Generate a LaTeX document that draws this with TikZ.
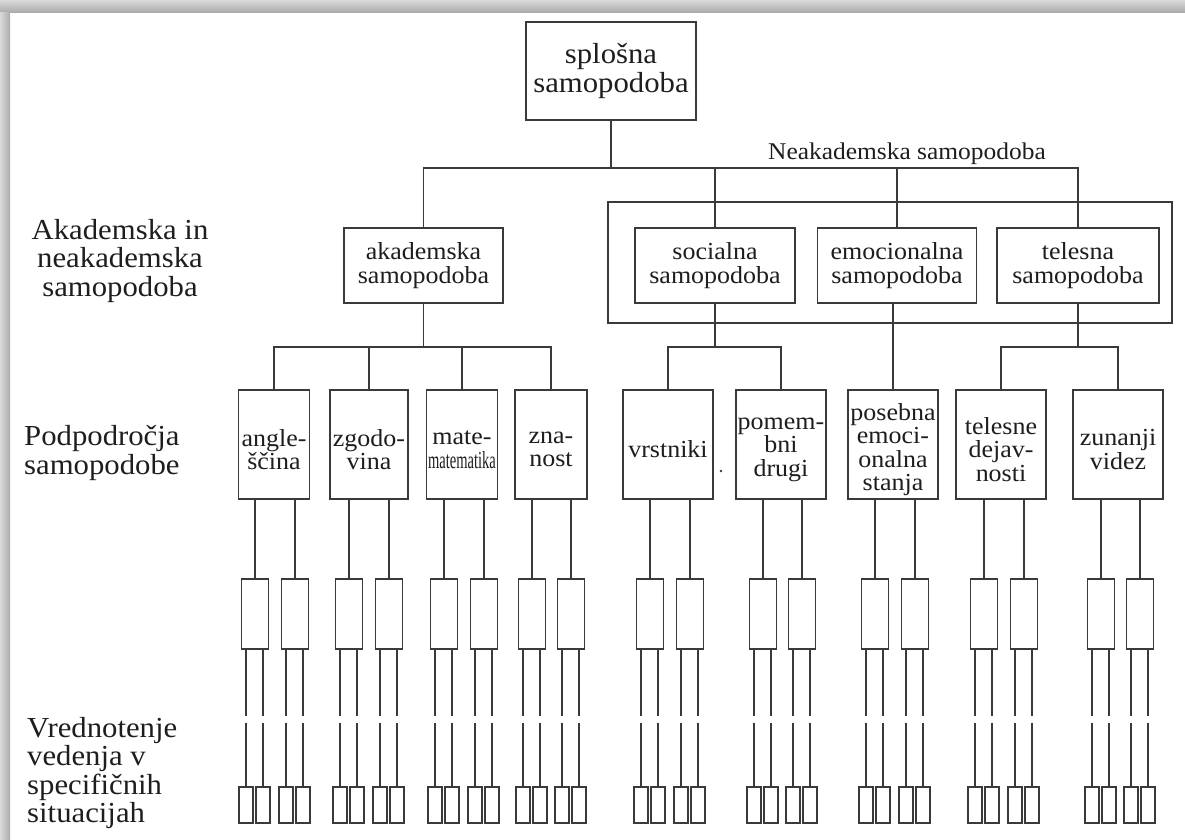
\documentclass[tikz,border=0pt]{standalone}
\usepackage{fontspec}
\usepackage{graphicx}
\setmainfont{Liberation Serif}[FakeStretch=1.06]
\usetikzlibrary{calc}
\definecolor{ln}{HTML}{3A3A3A}
\definecolor{tx}{HTML}{1E1E1E}
\newcommand{\bxf}{\fontsize{24.5}{23.5}\selectfont}
\newcommand{\bigf}{\fontsize{29}{29}\selectfont}
\newcommand{\labf}{\fontsize{29}{28.5}\selectfont}
\tikzset{
  conn/.style={draw=ln, line width=1.2pt},
  brk/.style={conn, dash pattern=on 66pt off 7pt on 200pt},
  box/.style={draw=ln, line width=1.2pt, inner sep=0pt, align=center, text=tx, font=\bxf},
  topbox/.style={box, font=\bigf, minimum width=170pt, minimum height=98pt},
  lvtwo/.style={box, minimum height=75pt},
  lvthree/.style={box, minimum height=109pt},
  lvtxt/.style={font=\bxf, align=center, text=tx, inner sep=0pt, yshift=-5pt},
  midbox/.style={draw=ln, line width=1.2pt, inner sep=0pt, minimum width=27pt, minimum height=70pt},
  botbox/.style={draw=ln, line width=1.2pt, inner sep=0pt, minimum width=14pt, minimum height=36pt},
  lab/.style={font=\labf, text=tx, inner sep=0pt}
}
\begin{document}
\begin{tikzpicture}[x=1pt,y=-1pt]
\useasboundingbox (0,0) rectangle (1185,839);
\fill[white] (0,0) rectangle (1185,839);
% scan shadow frame
\shade[top color=gray!30, bottom color=gray!65] (0,0) rectangle (1185,12);
\shade[left color=gray!30, right color=gray!65] (0,12) rectangle (10,839);

% helper levels
\coordinate (b1) at (0,168);
\coordinate (b2) at (0,347);

% level 1
\node[topbox] (spl) at (611,71) {splošna\\samopodoba};
\node[font=\fontsize{24}{22}\selectfont, text=tx, anchor=base, inner sep=0pt] (neaklab) at (907,159) {Neakademska samopodoba};

% level 2
\node[draw=ln, line width=1.2pt, minimum width=564pt, minimum height=121pt, inner sep=0pt] (neak) at (890,262.5) {};
\node[lvtwo, minimum width=159pt] (akad) at (423.5,265.5) {akademska\\samopodoba};
\node[lvtwo, minimum width=160pt] (soc) at (715,265.5) {socialna\\samopodoba};
\node[lvtwo, minimum width=159pt] (emo) at (897,265.5) {emocionalna\\samopodoba};
\node[lvtwo, minimum width=162pt] (tel) at (1078,265.5) {telesna\\samopodoba};

\draw[conn] (spl.south) -- (spl.south |- b1);
\draw[conn] (akad.north) |- (tel.north |- b1) -- (tel.north);
\draw[conn] (soc.north) -- (soc.north |- b1);
\draw[conn] (emo.north) -- (emo.north |- b1);

% level 3
\foreach \n/\x/\w/\t in {
  angl/274/71/{angle-\\ščina},
  zgod/369/78/{zgodo-\\vina},
  mate/462/71/{mate-\\\scalebox{0.56}[1]{matematika}},
  zna/551/72/{zna-\\nost},
  vrst/668/90/{vrstniki},
  pomem/781/90/{pomem-\\bni\\drugi},
  poseb/893/90/{posebna\\emoci-\\onalna\\stanja},
  teles/1001/90/{telesne\\dejav-\\nosti},
  zun/1118/90/{zunanji\\videz}}{
  \node[lvthree, minimum width=\w pt, label={[lvtxt]center:{\t}}] (\n) at (\x,444.5) {};
}

\draw[conn] (akad.south) -- (akad.south |- b2);
\draw[conn] (angl.north) |- (zna.north |- b2) -- (zna.north);
\draw[conn] (zgod.north) -- (zgod.north |- b2);
\draw[conn] (mate.north) -- (mate.north |- b2);
\draw[conn] (soc.south) -- (soc.south |- b2);
\draw[conn] (vrst.north) |- (pomem.north |- b2) -- (pomem.north);
\draw[conn] (poseb.north) -- (poseb.north |- emo.south);
\draw[conn] (tel.south) -- (tel.south |- b2);
\draw[conn] (teles.north) |- (zun.north |- b2) -- (zun.north);

% levels 4 and 5
\foreach \p/\a/\b in {
  angl/255/295, zgod/349/389, mate/444/484, zna/532/571,
  vrst/650/690, pomem/763/802, poseb/875/915, teles/984/1024, zun/1101/1140}{
  \foreach \k/\c in {1/\a, 2/\b}{
    \node[midbox] (\p\k) at (\c,614) {};
    \draw[conn] (\p\k.north) -- (\p\k.north |- \p.south);
    \node[botbox] (\p\k a) at (\c-9,805) {};
    \node[botbox] (\p\k b) at (\c+8,805) {};
    \draw[brk] (\p\k.south -| \p\k a.north) -- (\p\k a.north);
    \draw[brk] (\p\k.south -| \p\k b.north) -- (\p\k b.north);
  }
}

% speck
\fill[ln] (721,471) circle (1.4);

% left labels
\node[lab, align=center] (lab1) at (120,261) {Akademska in\\neakademska\\samopodoba};
\node[lab, align=left, anchor=west] (lab2) at (24,453) {Podpodročja\\samopodobe};
\node[lab, align=left, anchor=west] (lab3) at (27,773) {Vrednotenje\\vedenja v\\specifičnih\\situacijah};
\end{tikzpicture}
\end{document}
